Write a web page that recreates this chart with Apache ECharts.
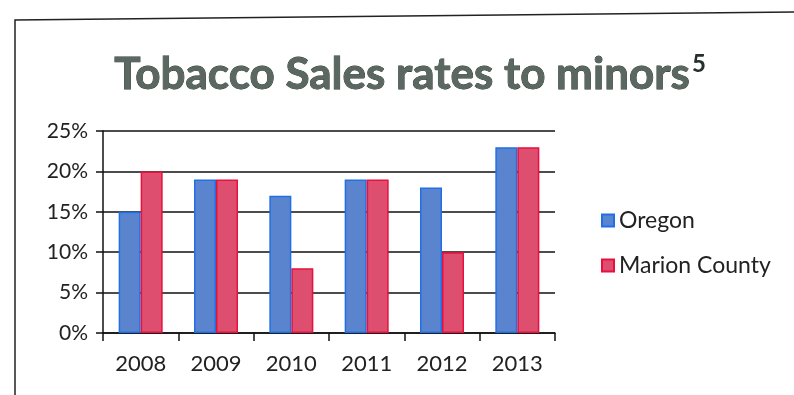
<!DOCTYPE html>
<html><head><meta charset="utf-8">
<script src="https://cdn.jsdelivr.net/npm/echarts@6/dist/echarts.min.js"></script>
<style>html,body{margin:0;padding:0;background:#fff}#c{width:794px;height:395px}</style>
</head><body><div id="c"></div>
<script>
const categories = ['2008','2009','2010','2011','2012','2013'];
const oregon = [15, 19, 17, 19, 18, 23];
const marion = [20, 19, 8, 19, 10, 23];
const yTicks = [0, 5, 10, 15, 20, 25];

const chart = echarts.init(document.getElementById('c'));
chart.setOption({
  animation: false,
  backgroundColor: '#fff',
  textStyle: {fontFamily: 'Lato'},
  graphic: [{
    type: 'polyline', silent: true,
    shape: {points: [[15, 400], [15, 20], [800, 12]]},
    style: {stroke: '#222', lineWidth: 1.5, fill: null}
  }],
  title: {
    text: '{m|Tobacco Sales rates to minors}{s|5}',
    left: 405, textAlign: 'center', top: 47,
    textStyle: {
      rich: {
        m: {fontFamily: 'Lato', fontSize: 44, fontWeight: 'bold', color: '#5b6861',
            textBorderColor: '#1f2824', textBorderWidth: 0.8},
        s: {fontFamily: 'Lato', fontSize: 24, fontWeight: 'bold', color: '#26302b', verticalAlign: 'top', padding: [0,0,22,2]}
      }
    }
  },
  legend: {
    orient: 'vertical', left: 596, top: 204, itemGap: 22,
    itemWidth: 12, itemHeight: 12, icon: 'rect',
    textStyle: {fontFamily: 'Lato', fontSize: 23, color: '#222'},
    data: ['Oregon', 'Marion County']
  },
  grid: {left: 103, right: 239, top: 131, bottom: 62, containLabel: false},
  xAxis: {
    type: 'category', data: categories,
    axisLine: {lineStyle: {color: '#111', width: 1.5}},
    axisTick: {show: true, length: 8, lineStyle: {color: '#111', width: 1.5}},
    axisLabel: {fontFamily: 'Lato', fontSize: 22, color: '#222', margin: 20}
  },
  yAxis: {
    type: 'value', min: 0, max: 25, interval: 5,
    axisLine: {show: true, lineStyle: {color: '#111', width: 1.5}},
    axisTick: {show: true, length: 7, lineStyle: {color: '#111', width: 1.5}},
    axisLabel: {fontFamily: 'Lato', fontSize: 21, color: '#222', margin: 15,
      formatter: v => yTicks.includes(v) ? v + '%' : ''},
    splitLine: {lineStyle: {color: '#111', width: 1.5}}
  },
  series: [
    {name: 'Oregon', type: 'bar', data: oregon, barWidth: 22, barGap: '0%',
     itemStyle: {color: '#5b84cf', borderColor: '#1f6fe6', borderWidth: 1.5}},
    {name: 'Marion County', type: 'bar', data: marion, barWidth: 22,
     itemStyle: {color: '#de4e6f', borderColor: '#e8103c', borderWidth: 1.5}}
  ]
});
</script></body></html>
